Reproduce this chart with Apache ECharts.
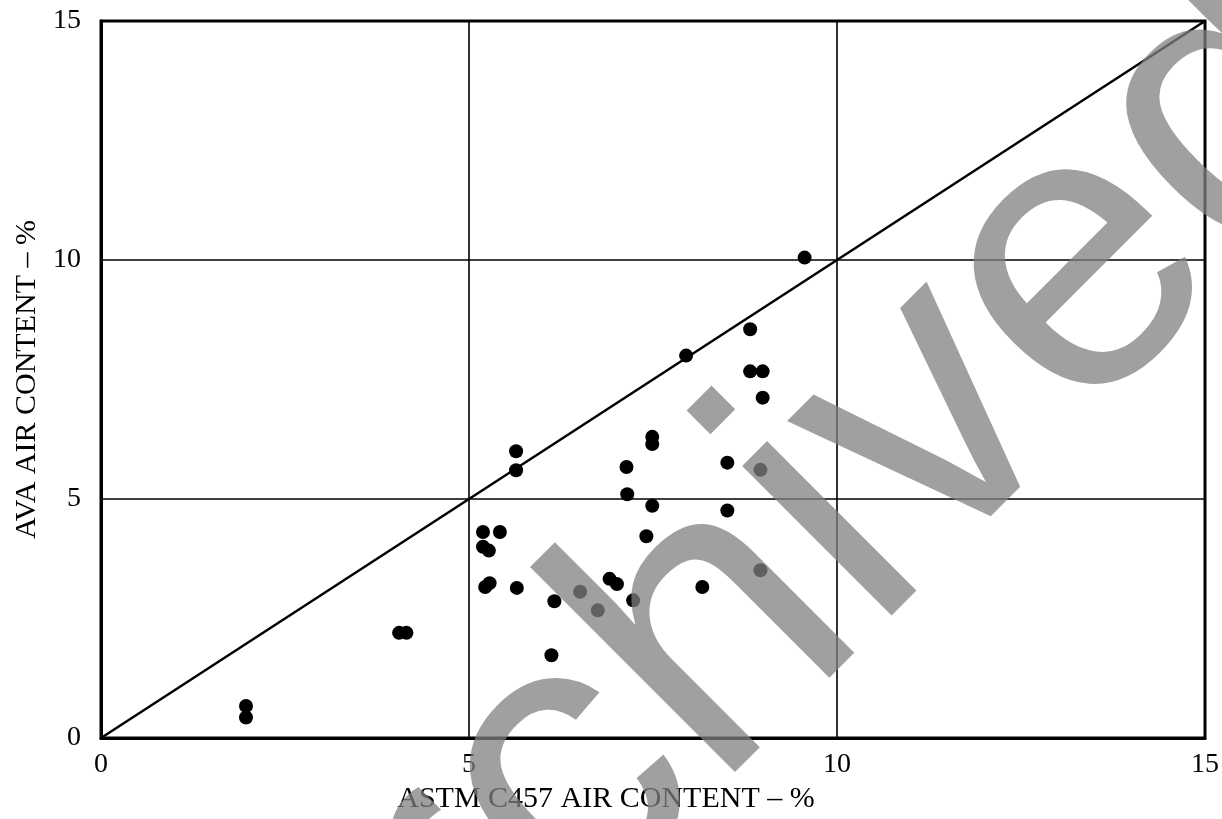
<!DOCTYPE html>
<html>
<head>
<meta charset="utf-8">
<script src="https://cdn.jsdelivr.net/npm/echarts@6/dist/echarts.min.js"></script>
<style>
html,body{margin:0;padding:0;background:#fff;}
#chart{width:1222px;height:819px;}
</style>
</head>
<body>
<div id="chart"></div>
<script>
// ASTM C457 air content (%) for each sample
const astmAir = [1.97, 1.97, 4.05, 4.15, 5.19, 5.42, 5.19, 5.27, 5.22, 5.28, 5.65, 5.64, 5.64,
  6.12, 6.16, 6.51, 6.75, 6.91, 7.01, 7.14, 7.15, 7.23, 7.41, 7.49, 7.49, 7.49, 7.95, 8.17,
  8.51, 8.51, 8.82, 8.82, 8.99, 8.99, 8.96, 8.96, 9.56];
// AVA air content (%) for the same samples
const avaAir = [0.67, 0.43, 2.2, 2.2, 4.31, 4.31, 4.0, 3.92, 3.16, 3.24, 3.14, 6.0, 5.6,
  1.73, 2.86, 3.06, 2.67, 3.33, 3.22, 5.67, 5.1, 2.88, 4.22, 6.3, 6.15, 4.86, 8.0, 3.16,
  5.76, 4.76, 8.55, 7.67, 7.67, 7.12, 5.61, 3.51, 10.05];
// line of equality
const equalityX = [0, 15];
const equalityY = [0, 15];
const axisTicks = [0, 5, 10, 15];
const xTitle = 'ASTM C457 AIR CONTENT – %';
const yTitle = 'AVA AIR CONTENT – %';
const watermark = 'archived';

const scatterData = astmAir.map((v, i) => [v, avaAir[i]]);
const lineData = equalityX.map((v, i) => [v, equalityY[i]]);
const serif = '"Liberation Serif", "Times New Roman", serif';

const chart = echarts.init(document.getElementById('chart'));
chart.setOption({
  animation: false,
  backgroundColor: '#ffffff',
  grid: {left: 101, right: 17, top: 21, bottom: 79, show: true, borderColor: '#000', borderWidth: 3},
  xAxis: {
    type: 'value', min: axisTicks[0], max: axisTicks[axisTicks.length - 1], interval: 5,
    name: xTitle, nameLocation: 'middle', nameGap: 46,
    nameTextStyle: {fontFamily: serif, fontSize: 30, color: '#000', padding: [0, 94, 0, 0]},
    axisLine: {show: true, lineStyle: {color: '#000', width: 3}},
    axisTick: {show: false},
    axisLabel: {fontFamily: serif, fontSize: 28, color: '#000', margin: 13},
    splitLine: {show: true, lineStyle: {color: '#000', width: 1.6}}
  },
  yAxis: {
    type: 'value', min: axisTicks[0], max: axisTicks[axisTicks.length - 1], interval: 5,
    name: yTitle, nameLocation: 'middle', nameGap: 55, nameRotate: 90,
    nameTextStyle: {fontFamily: serif, fontSize: 30, color: '#000'},
    axisLine: {show: true, lineStyle: {color: '#000', width: 3}},
    axisTick: {show: false},
    axisLabel: {fontFamily: serif, fontSize: 28, color: '#000', margin: 20},
    splitLine: {show: true, lineStyle: {color: '#000', width: 1.6}}
  },
  series: [
    {type: 'line', data: lineData, symbol: 'none', lineStyle: {color: '#000', width: 2.5}, z: 3},
    {type: 'scatter', data: scatterData, symbol: 'circle', symbolSize: 14, itemStyle: {color: '#000', opacity: 1}, z: 4}
  ],
  graphic: [{
    type: 'text', x: 779, y: 572, rotation: Math.PI / 4, z: 100, silent: true,
    style: {text: watermark, font: '400px "Liberation Sans", Arial, sans-serif', fill: '#808080', opacity: 0.75, align: 'center', verticalAlign: 'middle'}
  }]
});
</script>
</body>
</html>
